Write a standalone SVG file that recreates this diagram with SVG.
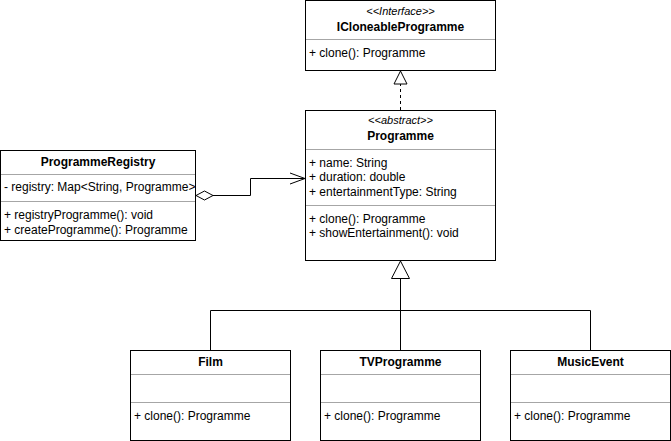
<svg xmlns="http://www.w3.org/2000/svg" width="671" height="441" viewBox="0 0 671 441">
  <style>
    .box { fill: #ffffff; stroke: #000000; stroke-width: 1; }
    .sep { stroke: #a6a6a6; stroke-width: 1; }
    .txt { font-family: "Liberation Sans", Arial, sans-serif; font-size: 12px; fill: #000000; }
    .name { font-weight: bold; text-anchor: middle; }
    .stereo { font-style: italic; font-size: 11px; text-anchor: middle; }
    .edge { fill: none; stroke: #000000; stroke-width: 1; }
    .hollow { fill: #ffffff; stroke: #000000; stroke-width: 1; }
  </style>

  <rect width="671" height="441" fill="#ffffff"/>

  <!-- Connectors -->
  <g id="connectors">
    <!-- Programme realizes ICloneableProgramme -->
    <line class="edge" x1="400.5" y1="110" x2="400.5" y2="84" stroke-dasharray="3 3"/>
    <polygon class="hollow" points="400.5,71 394,84 407,84"/>

    <!-- Subclasses generalize Programme -->
    <polyline class="edge" points="210.5,350 210.5,310.5 590.5,310.5 590.5,350"/>
    <line class="edge" x1="400.5" y1="350" x2="400.5" y2="278"/>
    <polygon class="hollow" points="400.5,261 391.5,278.5 409.5,278.5"/>

    <!-- ProgrammeRegistry aggregates Programme -->
    <polyline class="edge" points="213,195.5 250.5,195.5 250.5,178.5 304,178.5"/>
    <polygon class="hollow" points="196,195.5 204.5,191 213,195.5 204.5,200"/>
    <polyline class="edge" points="290,173 305,178.5 290,184"/>
  </g>

  <!-- ICloneableProgramme -->
  <g id="ICloneableProgramme">
    <rect class="box" x="305.5" y="0.5" width="190" height="70"/>
    <line class="sep" x1="306" y1="39.5" x2="495" y2="39.5"/>
    <text class="txt stereo" x="400.5" y="15">&lt;&lt;Interface&gt;&gt;</text>
    <text class="txt name" x="400.5" y="30.5">ICloneableProgramme</text>
    <text class="txt" x="309" y="57">+ clone(): Programme</text>
  </g>

  <!-- Programme -->
  <g id="Programme">
    <rect class="box" x="305.5" y="110.5" width="190" height="150"/>
    <line class="sep" x1="306" y1="149.5" x2="495" y2="149.5"/>
    <line class="sep" x1="306" y1="205.5" x2="495" y2="205.5"/>
    <text class="txt stereo" x="400.5" y="124">&lt;&lt;abstract&gt;&gt;</text>
    <text class="txt name" x="400.5" y="140">Programme</text>
    <text class="txt" x="309" y="166.5">+ name: String</text>
    <text class="txt" x="309" y="181">+ duration: double</text>
    <text class="txt" x="309" y="195.5">+ entertainmentType: String</text>
    <text class="txt" x="309" y="222.5">+ clone(): Programme</text>
    <text class="txt" x="309" y="237">+ showEntertainment(): void</text>
  </g>

  <!-- ProgrammeRegistry -->
  <g id="ProgrammeRegistry">
    <rect class="box" x="0.5" y="150.5" width="195" height="90"/>
    <line class="sep" x1="1" y1="174.5" x2="195" y2="174.5"/>
    <line class="sep" x1="1" y1="201.5" x2="195" y2="201.5"/>
    <text class="txt name" x="98" y="165.5">ProgrammeRegistry</text>
    <text class="txt" x="4" y="191">- registry: Map&lt;String, Programme&gt;</text>
    <text class="txt" x="4" y="219">+ registryProgramme(): void</text>
    <text class="txt" x="4" y="233.5">+ createProgramme(): Programme</text>
  </g>

  <!-- Film -->
  <g id="Film">
    <rect class="box" x="130.5" y="350.5" width="160" height="90"/>
    <line class="sep" x1="131" y1="374.5" x2="290" y2="374.5"/>
    <line class="sep" x1="131" y1="402.5" x2="290" y2="402.5"/>
    <text class="txt name" x="210.5" y="365.5">Film</text>
    <text class="txt" x="134" y="420">+ clone(): Programme</text>
  </g>

  <!-- TVProgramme -->
  <g id="TVProgramme">
    <rect class="box" x="320.5" y="350.5" width="160" height="90"/>
    <line class="sep" x1="321" y1="374.5" x2="480" y2="374.5"/>
    <line class="sep" x1="321" y1="402.5" x2="480" y2="402.5"/>
    <text class="txt name" x="400.5" y="365.5">TVProgramme</text>
    <text class="txt" x="324" y="420">+ clone(): Programme</text>
  </g>

  <!-- MusicEvent -->
  <g id="MusicEvent">
    <rect class="box" x="510.5" y="350.5" width="160" height="90"/>
    <line class="sep" x1="511" y1="374.5" x2="670" y2="374.5"/>
    <line class="sep" x1="511" y1="402.5" x2="670" y2="402.5"/>
    <text class="txt name" x="590.5" y="365.5">MusicEvent</text>
    <text class="txt" x="514" y="420">+ clone(): Programme</text>
  </g>
</svg>
